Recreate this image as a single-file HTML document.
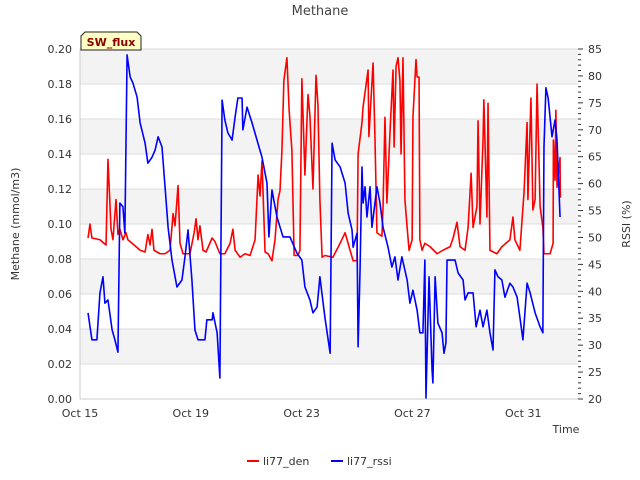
<!DOCTYPE html>
<html><head><meta charset="utf-8"><style>body{margin:0;background:#fff}svg{display:block;font-family:"DejaVu Sans","Liberation Sans",sans-serif}</style></head>
<body>
<svg id="chart" width="640" height="480"></svg>
<script>
const denDays=[.29,.36,.43,.72,.94,1.01,1.12,1.19,1.30,1.37,1.44,1.55,1.66,1.73,1.88,2.17,2.35,2.45,2.53,2.60,2.67,2.89,3.07,3.25,3.36,3.43,3.54,3.61,3.72,3.97,4.12,4.19,4.26,4.33,4.44,4.55,4.77,4.87,5.05,5.23,5.42,5.52,5.60,5.78,5.96,6.14,6.32,6.43,6.50,6.57,6.68,6.79,6.93,7.04,7.15,7.22,7.29,7.36,7.47,7.55,7.65,7.73,7.87,7.94,8.01,8.12,8.23,8.30,8.41,8.52,8.59,8.66,8.74,8.84,9.13,9.39,9.57,9.75,9.86,10.00,10.04,10.18,10.22,10.40,10.43,10.58,10.65,10.72,10.90,10.94,11.01,11.08,11.19,11.30,11.34,11.41,11.48,11.55,11.59,11.66,11.73,11.81,11.88,11.99,12.02,12.13,12.17,12.24,12.27,12.35,12.45,12.64,12.89,13.10,13.36,13.47,13.61,13.72,13.90,14.01,14.12,14.19,14.33,14.37,14.44,14.55,14.58,14.69,14.73,14.80,15.05,15.23,15.52,15.63,15.70,15.88,16.03,16.14,16.17,16.28,16.35,16.43,16.50,16.61,16.71,16.75,16.97,17.08,17.09,17.15,17.18,17.22,17.33,17.34];
const denVals=[.092,.100,.092,.091,.088,.137,.097,.091,.114,.094,.097,.091,.095,.091,.089,.085,.084,.094,.088,.097,.085,.083,.083,.085,.106,.099,.122,.089,.083,.083,.095,.103,.091,.099,.085,.084,.092,.090,.083,.083,.089,.097,.085,.081,.083,.082,.091,.128,.116,.136,.084,.083,.079,.091,.114,.119,.142,.182,.195,.165,.142,.082,.082,.085,.183,.128,.174,.162,.120,.185,.168,.114,.081,.082,.081,.089,.095,.085,.079,.079,.140,.158,.167,.188,.150,.192,.148,.095,.093,.110,.161,.112,.152,.188,.144,.190,.195,.182,.140,.195,.114,.098,.085,.091,.161,.194,.184,.184,.091,.085,.089,.087,.083,.085,.087,.092,.101,.087,.085,.098,.129,.098,.110,.159,.100,.148,.171,.104,.169,.085,.083,.087,.091,.104,.091,.085,.118,.158,.114,.172,.108,.114,.180,.110,.098,.083,.083,.089,.148,.125,.165,.121,.138,.115];
const rssiDays=[.29,.43,.61,.72,.83,.90,1.01,1.16,1.26,1.37,1.44,1.55,1.62,1.70,1.81,1.91,2.06,2.17,2.35,2.45,2.60,2.71,2.82,2.96,3.07,3.18,3.32,3.50,3.68,3.79,3.90,4.04,4.15,4.26,4.51,4.58,4.77,4.80,4.95,5.05,5.13,5.23,5.34,5.49,5.60,5.70,5.85,5.88,6.03,6.21,6.39,6.57,6.75,6.82,6.93,7.11,7.33,7.58,7.83,8.01,8.12,8.30,8.41,8.56,8.66,8.84,9.03,9.10,9.21,9.39,9.57,9.68,9.82,9.86,10.00,10.04,10.11,10.18,10.22,10.29,10.36,10.47,10.54,10.72,10.83,10.94,11.12,11.26,11.37,11.48,11.62,11.81,11.91,12.02,12.17,12.27,12.38,12.45,12.49,12.60,12.71,12.74,12.82,12.92,13.07,13.14,13.21,13.25,13.54,13.65,13.83,13.90,14.01,14.19,14.30,14.44,14.55,14.69,14.80,14.91,14.98,15.09,15.23,15.34,15.52,15.63,15.78,15.88,15.99,16.14,16.25,16.43,16.61,16.71,16.75,16.82,16.90,17.04,17.15,17.22,17.33];
const rssiVals=[36.0,31.0,31.0,39.7,42.7,37.8,38.4,32.8,31.0,28.7,56.4,55.7,50.8,83.9,79.8,78.7,76.1,71.3,67.5,63.8,64.9,66.2,68.7,66.8,59.4,51.9,45.8,40.8,42.1,46.4,51.4,42.1,32.8,31.0,31.0,34.7,34.7,36.0,32.3,23.9,75.5,71.8,69.4,68.1,72.4,75.9,75.9,70.0,74.2,71.3,68.1,64.9,60.1,50.1,58.8,53.8,50.1,50.1,47.1,45.8,40.8,38.4,36.0,37.1,42.7,35.2,28.5,67.5,64.4,63.1,60.1,54.5,51.4,48.2,50.8,29.7,44.0,63.1,56.4,59.4,53.8,59.4,51.9,59.4,56.4,51.9,48.2,44.5,46.4,42.1,46.4,42.1,37.8,40.2,36.5,32.3,32.3,45.8,20.2,42.7,25.4,23.0,42.7,34.1,32.3,28.5,30.4,45.8,45.8,43.4,42.1,38.4,39.7,39.7,33.4,36.5,33.4,36.5,32.3,29.1,44.0,42.7,42.1,38.9,41.5,40.8,38.9,35.2,31.0,41.5,39.7,36.0,33.4,32.3,66.8,77.8,75.9,68.7,71.8,68.1,53.8];
const xTickDays=[0,4,8,12,16];
const xTickLabels=["Oct 15","Oct 19","Oct 23","Oct 27","Oct 31"];
const yTicks=[0,.02,.04,.06,.08,.10,.12,.14,.16,.18,.20];
const y2Ticks=[20,25,30,35,40,45,50,55,60,65,70,75,80,85];

const L=80,R=578,T=49,B=399;
const xS=d=>L+d*27.7;
const yS=v=>B-(v/0.2)*(B-T);
const y2S=v=>B-((v-20)/65)*(B-T);
const svg=document.getElementById('chart');
const NS='http://www.w3.org/2000/svg';
function mk(tag,attrs,parent){const e=document.createElementNS(NS,tag);for(const k in attrs)e.setAttribute(k,attrs[k]);(parent||svg).appendChild(e);return e;}

// bands
for(let i=0;i<10;i++){if(i%2===1){const r=mk('rect',{x:L,y:yS(yTicks[i+1]),width:R-L,height:yS(yTicks[i])-yS(yTicks[i+1]),fill:'#f3f3f3'});

}}
yTicks.forEach((v,i)=>{const g=mk('line',{x1:L,x2:R,y1:yS(v),y2:yS(v),stroke:'#dcdcdc','stroke-width':1});


const t=mk('text',{x:72,y:yS(v)+4,'text-anchor':'end','font-size':11,fill:'#333'});t.textContent=v.toFixed(2);

});
mk('line',{x1:L,x2:L,y1:T,y2:B,stroke:'#ccc'});
mk('line',{x1:L,x2:R,y1:B,y2:B,stroke:'#ccc'});
// right ticks
for(let v=20;v<=85;v++){const maj=v%5===0;mk('line',{x1:R,x2:R+(maj?5:3),y1:y2S(v),y2:y2S(v),stroke:'#333'});}
y2Ticks.forEach(v=>{const t=mk('text',{x:588,y:y2S(v)+4,'font-size':11,fill:'#333'});t.textContent=v;

});
xTickDays.forEach((d,i)=>{const t=mk('text',{x:xS(d),y:417,'text-anchor':'middle','font-size':11,fill:'#333'});t.textContent=xTickLabels[i];

});

function line(days,vals,sc,color,name){const p=mk('polyline',{points:days.map((d,i)=>xS(d)+','+sc(vals[i])).join(' '),fill:'none',stroke:color,'stroke-width':1.6,'stroke-linejoin':'round'});

}
line(denDays,denVals,yS,'#ff0000','li77-den-line');
line(rssiDays,rssiVals,y2S,'#0000ff','li77-rssi-line');
</script>
<svg width="640" height="480" style="position:absolute;left:0;top:0;font-family:'DejaVu Sans','Liberation Sans',sans-serif">
<text x="320" y="15" text-anchor="middle" font-size="13" fill="#444">Methane</text>
<text transform="translate(19,224) rotate(-90)" text-anchor="middle" font-size="11" fill="#333">Methane (mmol/m3)</text>
<text transform="translate(630,224) rotate(-90)" text-anchor="middle" font-size="11" fill="#333">RSSI (%)</text>
<text x="566" y="433" text-anchor="middle" font-size="11" fill="#333">Time</text>
<g><polygon points="81,36 85,32 137,32 141,36 141,50 81,50" fill="#ffffc4" stroke="#222"/><text x="111" y="46" text-anchor="middle" font-size="11" font-weight="bold" fill="#8b0000">SW_flux</text></g>
<g><line x1="247" x2="259" y1="461" y2="461" stroke="#f00" stroke-width="2"/><text x="263" y="465" font-size="11" fill="#333">li77_den</text></g>
<g><line x1="331" x2="343" y1="461" y2="461" stroke="#00f" stroke-width="2"/><text x="347" y="465" font-size="11" fill="#333">li77_rssi</text></g>
</svg>
</body></html>
